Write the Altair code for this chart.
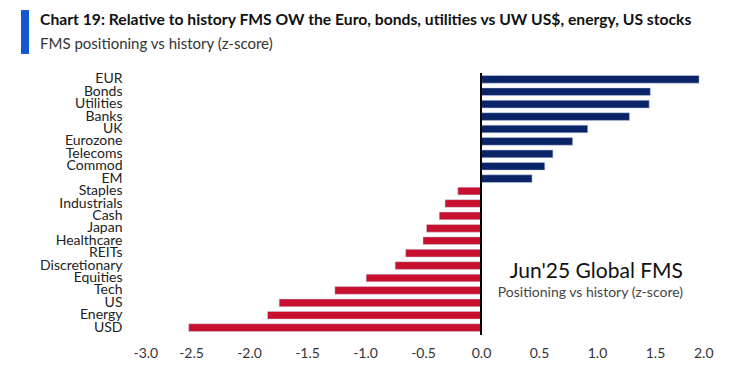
import altair as alt
import pandas as pd

categories = ["EUR", "Bonds", "Utilities", "Banks", "UK", "Eurozone", "Telecoms",
              "Commod", "EM", "Staples", "Industrials", "Cash", "Japan", "Healthcare",
              "REITs", "Discretionary", "Equities", "Tech", "US", "Energy", "USD"]
values = [1.88, 1.46, 1.45, 1.28, 0.92, 0.79, 0.62, 0.55, 0.44, -0.20, -0.31, -0.36,
          -0.47, -0.50, -0.65, -0.74, -0.99, -1.26, -1.74, -1.84, -2.52]
x_ticks = [-3.0, -2.5, -2.0, -1.5, -1.0, -0.5, 0.0, 0.5, 1.0, 1.5, 2.0]

title_text = "Chart 19: Relative to history FMS OW the Euro, bonds, utilities vs UW US$, energy, US stocks"
subtitle_text = "FMS positioning vs history (z-score)"
note_title = "Jun'25 Global FMS"
note_sub = "Positioning vs history (z-score)"

FONT = "Lato"

df = pd.DataFrame({"cat": categories, "val": values})

W, H = 580, 261

bars = alt.Chart(df).mark_bar(stroke="#c9d3ea", strokeWidth=0.5).encode(
    y=alt.Y("cat:N", sort=categories, title=None,
            scale=alt.Scale(paddingInner=0.38, paddingOuter=0.2),
            axis=alt.Axis(ticks=False, domain=False, labelFont=FONT, labelFontSize=14,
                          labelColor="#222", labelPadding=11, labelLimit=200)),
    x=alt.X("val:Q", title=None,
            scale=alt.Scale(domain=[-3, 2], nice=False, zero=False),
            axis=alt.Axis(values=x_ticks, ticks=False, domain=False, grid=False,
                          labelExpr="(datum.value < 0 ? '-' : '') + format(abs(datum.value), '.1f')",
                          labelFont=FONT, labelFontSize=14, labelColor="#333",
                          labelPadding=12)),
    color=alt.condition(alt.datum.val > 0, alt.value("#0B2468"), alt.value("#C8102E")),
)

zero = alt.Chart(pd.DataFrame({"z": [0]})).mark_rule(color="black", strokeWidth=2).encode(
    x="z:Q", y=alt.value(0), y2=alt.value(H + 1)
)

deco = pd.DataFrame({"t": [title_text], "s": [subtitle_text], "n1": [note_title], "n2": [note_sub]})

blue = alt.Chart(deco).mark_rect(color="#1357D1").encode(
    x=alt.value(-112), x2=alt.value(-104), y=alt.value(-63), y2=alt.value(-19)
)
t1 = alt.Chart(deco).mark_text(align="left", baseline="middle", font=FONT, fontSize=15.7,
                               fontWeight="bold", color="#111").encode(
    x=alt.value(-93), y=alt.value(-53), text="t:N")
t2 = alt.Chart(deco).mark_text(align="left", baseline="middle", font=FONT, fontSize=15,
                               color="#333").encode(
    x=alt.value(-93), y=alt.value(-29), text="s:N")
n1 = alt.Chart(deco).mark_text(align="right", baseline="middle", font=FONT, fontSize=21,
                               color="#111").encode(
    x=alt.value(550), y=alt.value(199), text="n1:N")
n2 = alt.Chart(deco).mark_text(align="right", baseline="middle", font=FONT, fontSize=14,
                               color="#444").encode(
    x=alt.value(550), y=alt.value(220), text="n2:N")

chart = alt.layer(bars, zero, blue, t1, t2, n1, n2).properties(
    width=W, height=H,
    autosize=alt.AutoSizeParams(type="none"),
    padding={"left": 125, "top": 65, "right": 19, "bottom": 30},
    background="white",
).configure_view(strokeWidth=0, strokeOpacity=0)

chart.save("out.html", embed_options={"renderer": "svg", "actions": False})
